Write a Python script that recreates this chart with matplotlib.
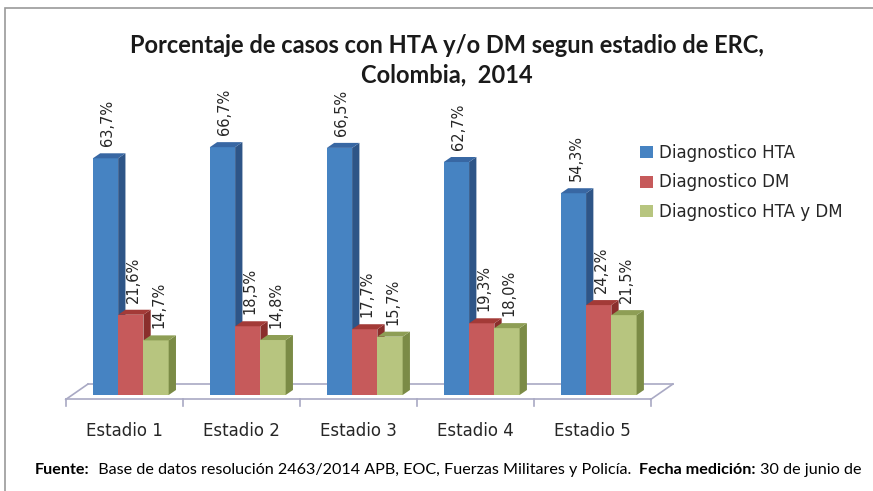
import matplotlib.pyplot as plt
from matplotlib.patches import Polygon, Patch, Rectangle
import numpy as np

# data
categories = ['Estadio 1', 'Estadio 2', 'Estadio 3', 'Estadio 4', 'Estadio 5']
series_names = ['Diagnostico HTA', 'Diagnostico DM', 'Diagnostico HTA y DM']
hta = [63.7, 66.7, 66.5, 62.7, 54.3]
dm = [21.6, 18.5, 17.7, 19.3, 24.2]
hta_dm = [14.7, 14.8, 15.7, 18.0, 21.5]

front = ['#4683C2', '#C65A5B', '#B7C57F']
side = ['#2E5587', '#8A2E2C', '#7B8B46']
top = ['#3867A3', '#A33A37', '#8E9E55']

fig = plt.figure(figsize=(8.73, 4.91), dpi=100)
ax = fig.add_axes([0.0753, 0.1864, 0.670, 0.5767])
ax.set_xlim(0, 5)
ax.set_ylim(-1.2, 75)
for s in ax.spines.values():
    s.set_visible(False)
ax.set_yticks([])

w = 0.216
off = 0.232
dx, dy = 0.0624, 1.35

# floor
floor_c = '#A9A9C4'
ax.plot([0, 5], [-1.2, -1.2], color=floor_c, lw=1.2, zorder=1, clip_on=False)
ax.plot([0.19, 5.19], [2.95, 2.95], color=floor_c, lw=1.2, zorder=1, clip_on=False)
ax.plot([0, 0.19], [-1.2, 2.95], color=floor_c, lw=1.2, zorder=1, clip_on=False)
ax.plot([5, 5.19], [-1.2, 2.95], color=floor_c, lw=1.2, zorder=1, clip_on=False)
for k in range(6):
    ax.plot([k, k], [-1.2, -2.9], color=floor_c, lw=1.2, zorder=1, clip_on=False)

all_series = [hta, dm, hta_dm]
for i in range(len(categories)):
    for j, vals in enumerate(all_series):
        v = vals[i]
        x0 = i + off + j * w
        z = 3 + j
        ax.bar(x0, v, w, align='edge', color=front[j], zorder=z, linewidth=0)
        ax.add_patch(Polygon([(x0 + w, 0), (x0 + w + dx, dy), (x0 + w + dx, v + dy), (x0 + w, v)],
                             closed=True, facecolor=side[j], edgecolor='none', zorder=z))
        ax.add_patch(Polygon([(x0, v), (x0 + dx, v + dy), (x0 + w + dx, v + dy), (x0 + w, v)],
                             closed=True, facecolor=top[j], edgecolor='none', zorder=z))
        ax.annotate(f'{v:.1f}%'.replace('.', ','), (x0 + w / 2 + dx / 3, v + dy),
                    xytext=(0, 5), textcoords='offset points', rotation=90,
                    ha='center', va='bottom', fontsize=10.5, color='#262626', zorder=10)

ax.set_xticks(np.arange(len(categories)) + 0.5)
ax.set_xticklabels(categories, fontsize=12, color='#262626')
ax.tick_params(axis='x', length=0, pad=16)

handles = [Patch(facecolor=front[j], edgecolor='none') for j in range(3)]
fig.legend(handles, series_names, loc='upper left', bbox_to_anchor=(0.716, 0.737),
           frameon=False, fontsize=12, handlelength=0.75, handleheight=0.75,
           handletextpad=0.4, labelspacing=0.68, labelcolor='#262626')

fig.text(0.512, 0.878, 'Porcentaje de casos con HTA y/o DM segun estadio de ERC,\nColombia,  2014',
         ha='center', va='center', fontsize=17, fontweight='bold', family='Lato',
         linespacing=1.33, color='#1a1a1a')

# footer with bold parts
fs = 11.6
t1 = fig.text(0.040, 0.043, 'Fuente:', fontsize=fs, fontweight='bold', family='Lato', va='center')
t2 = ax.annotate('  Base de datos resolución 2463/2014 APB, EOC, Fuerzas Militares y Policía.  ',
                 xy=(1, 0), xycoords=t1, va='bottom', fontsize=fs, family='Lato',
                 annotation_clip=False)
t3 = ax.annotate('Fecha medición:', xy=(1, 0), xycoords=t2, va='bottom', fontsize=fs,
                 fontweight='bold', family='Lato', annotation_clip=False)
ax.annotate(' 30 de junio de', xy=(1, 0), xycoords=t3, va='bottom', fontsize=fs,
            family='Lato', annotation_clip=False)

# outer frame
fig.add_artist(Rectangle((0.006, -0.1), 1.1, 1.083, transform=fig.transFigure,
                         fill=False, edgecolor='#9A9A9A', lw=1.2))

fig.savefig('out.png', dpi=100)
